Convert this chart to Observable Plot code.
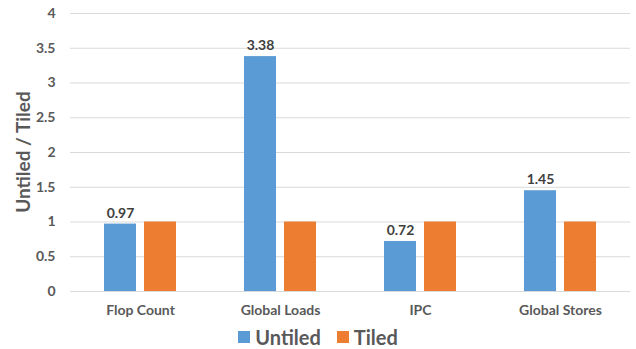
<!DOCTYPE html>
<html><head><meta charset="utf-8">
<script src="https://cdn.jsdelivr.net/npm/d3@7"></script>
<script src="https://cdn.jsdelivr.net/npm/@observablehq/plot@0.6"></script>
<style>
body{margin:0;background:#fff;font-family:Lato,"Open Sans",sans-serif;}
#wrap{position:relative;width:636px;height:349px;overflow:hidden;}
#ylabel{position:absolute;left:22px;top:152px;transform:translate(-50%,-50%) rotate(-90deg);font-size:19px;font-weight:bold;color:#595959;white-space:nowrap;}
#legend{position:absolute;left:0;top:323px;width:636px;height:27px;display:flex;justify-content:center;align-items:center;font-size:20px;font-weight:bold;color:#595959;}
#legend .item{display:flex;align-items:center;margin:0 8px;}
#legend .sw{width:12px;height:12px;margin-right:5px;}
</style></head><body>
<div id="wrap"><div id="chart"></div><div id="ylabel"></div><div id="legend"></div></div>
<script>
const categories = ["Flop Count", "Global Loads", "IPC", "Global Stores"];
const series = ["Untiled", "Tiled"];
const untiled = [0.97, 3.38, 0.72, 1.45];
const tiled = [1, 1, 1, 1];
const yTicks = [0, 0.5, 1, 1.5, 2, 2.5, 3, 3.5, 4];
const colors = ["#5B9BD5", "#ED7D31"];
const yTitle = "Untiled / Tiled";

const data = categories.flatMap((c, i) => [
  {category: c, series: series[0], value: untiled[i]},
  {category: c, series: series[1], value: tiled[i]}
]);

const plot = Plot.plot({
  width: 636, height: 322,
  marginLeft: 69, marginRight: 6, marginTop: 13, marginBottom: 31,
  style: {fontFamily: "Lato, 'Open Sans', sans-serif", fontSize: "14px", fontWeight: "bold", color: "#595959", background: "#fff"},
  facet: {data: data, x: "category", marginBottom: 31},
  fx: {domain: categories, padding: 0, label: null, tickSize: 0, tickPadding: 14},
  x: {domain: series, axis: null, paddingInner: 0.2, paddingOuter: 0.85},
  y: {domain: [0, 4], ticks: yTicks, tickFormat: d => String(d), label: null, tickSize: 0, tickPadding: 15},
  color: {domain: series, range: colors},
  marks: [
    Plot.ruleY(yTicks, {stroke: "#d9d9d9", strokeWidth: 1}),
    Plot.barY(data, {x: "series", y: "value", fill: "series"}),
    Plot.text(data, {filter: d => d.series === "Untiled", x: "series", y: "value", text: d => d.value.toFixed(2), dy: -11, fill: "#404040", fontSize: 14, fontWeight: "bold"})
  ]
});
document.getElementById("chart").appendChild(plot);
document.getElementById("ylabel").textContent = yTitle;
const lg = document.getElementById("legend");
series.forEach((s, i) => {
  const it = document.createElement("div"); it.className = "item";
  const sw = document.createElement("div"); sw.className = "sw"; sw.style.background = colors[i];
  const tx = document.createElement("span"); tx.textContent = s;
  it.appendChild(sw); it.appendChild(tx); lg.appendChild(it);
});
</script></body></html>
